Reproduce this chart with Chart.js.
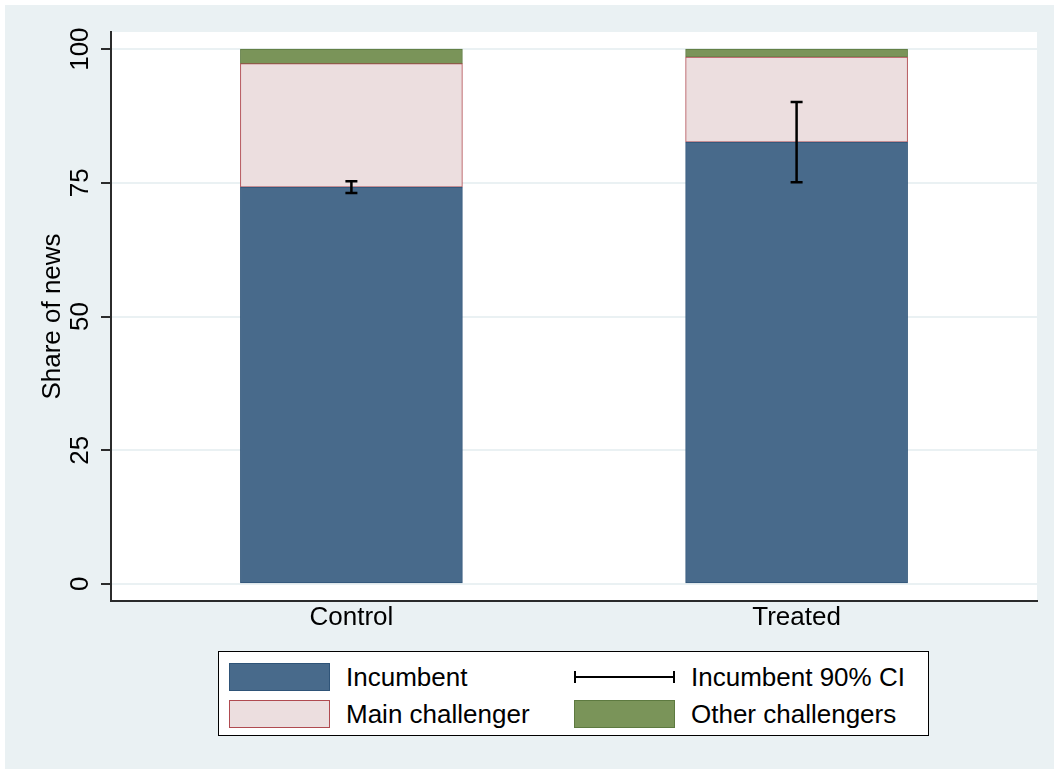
<!DOCTYPE html>
<html>
<head>
<meta charset="utf-8">
<script src="https://cdn.jsdelivr.net/npm/chart.js@4"></script>
<style>
  html, body { margin: 0; padding: 0; background: #ffffff; }
  #wrap { position: relative; width: 1056px; height: 771px; }
  #c { position: absolute; left: 0; top: 0; }
  #legend {
    position: absolute; left: 218px; top: 651px; width: 711px; height: 85px;
    border: 1.5px solid #000; background: #fff; box-sizing: border-box;
    font-family: "Liberation Sans", Arial, sans-serif; font-size: 26px; color: #000;
  }
  .sw { position: absolute; width: 101px; height: 28px; box-sizing: border-box; border: 1px solid; }
  .lbl { position: absolute; line-height: 30px; white-space: nowrap; }
  .ci { position: absolute; width: 101px; height: 2px; background: #000; }
  .ci::before, .ci::after { content: ""; position: absolute; top: -5px; width: 2px; height: 12px; background: #000; }
  .ci::before { left: 0; } .ci::after { right: 0; }
</style>
</head>
<body>
<div id="wrap">
  <canvas id="c" width="1056" height="771"></canvas>
  <div id="legend"></div>
</div>
<script>
// Group labels and stacked shares (percent of news coverage)
const categories = ['Control', 'Treated'];
const incumbent = [74.2, 82.6];
const mainChallenger = [23.1, 15.9];
const otherChallengers = [2.7, 1.5];
// 90% confidence interval for the incumbent share
const ciLow = [73.1, 75.1];
const ciHigh = [75.3, 90.1];
const yTicks = [0, 25, 50, 75, 100];

const seriesNames = ['Incumbent', 'Main challenger', 'Other challengers'];
const ciName = 'Incumbent 90% CI';
const fills = ['#486a8b', '#ecdedf', '#7a9459'];
const edges = ['#2f5478', '#b04a50', '#5d7a40'];

const FONT = '"Liberation Sans", Arial, sans-serif';
const BG = '#eaf1f3';
const AXIS = '#2b2b2b';

const toPoints = arr => arr.map((v, i) => ({ x: i, y: v }));

const backgroundPlugin = {
  id: 'bg',
  beforeDraw(chart) {
    const { ctx, chartArea: a } = chart;
    ctx.save();
    ctx.fillStyle = '#ffffff';
    ctx.fillRect(0, 0, chart.width, chart.height);
    ctx.fillStyle = BG;
    ctx.fillRect(5, 5, chart.width - 7, chart.height - 7);
    ctx.fillStyle = '#ffffff';
    ctx.fillRect(a.left, a.top, a.right - a.left, a.bottom - a.top);
    ctx.restore();
  }
};

const errorBarPlugin = {
  id: 'ciBars',
  afterDatasetsDraw(chart) {
    const { ctx } = chart;
    const xs = chart.scales.x, ys = chart.scales.y;
    ctx.save();
    ctx.strokeStyle = '#000';
    ctx.lineWidth = 2.5;
    ciLow.forEach((lo, i) => {
      const x = xs.getPixelForValue(i);
      const y1 = ys.getPixelForValue(lo), y2 = ys.getPixelForValue(ciHigh[i]);
      ctx.beginPath();
      ctx.moveTo(x, y1); ctx.lineTo(x, y2);
      ctx.moveTo(x - 6, y1); ctx.lineTo(x + 6, y1);
      ctx.moveTo(x - 6, y2); ctx.lineTo(x + 6, y2);
      ctx.stroke();
    });
    ctx.restore();
  }
};

// Rotated y tick labels and axis title
const yLabelPlugin = {
  id: 'yLabels',
  afterDraw(chart) {
    const { ctx } = chart;
    const ys = chart.scales.y;
    ctx.save();
    ctx.fillStyle = '#000';
    ctx.font = '26px ' + FONT;
    ctx.textAlign = 'center';
    ctx.textBaseline = 'alphabetic';
    ys.ticks.forEach(t => {
      const y = ys.getPixelForValue(t.value);
      ctx.save();
      ctx.translate(88, y);
      ctx.rotate(-Math.PI / 2);
      ctx.fillText(String(t.value), 0, 0);
      ctx.restore();
    });
    const mid = (ys.top + ys.bottom) / 2;
    ctx.save();
    ctx.translate(60, mid);
    ctx.rotate(-Math.PI / 2);
    ctx.fillText('Share of news', 0, 0);
    ctx.restore();
    ctx.restore();
  }
};

const datasets = [incumbent, mainChallenger, otherChallengers].map((vals, k) => ({
  label: seriesNames[k],
  data: toPoints(vals),
  backgroundColor: fills[k],
  borderColor: edges[k],
  borderWidth: 1,
  borderSkipped: false,
  barThickness: 222
}));

new Chart(document.getElementById('c'), {
  type: 'bar',
  data: { datasets },
  options: {
    responsive: false,
    animation: false,
    events: [],
    layout: { padding: { left: 0, top: 32, right: 19, bottom: 0 } },
    plugins: { legend: { display: false }, tooltip: { enabled: false } },
    scales: {
      x: {
        type: 'linear',
        stacked: true,
        offset: false,
        min: -0.54,
        max: 1.54,
        afterBuildTicks: s => { s.ticks = categories.map((_, i) => ({ value: i })); },
        afterFit: s => { s.height = 170; },
        grid: { display: false, drawTicks: false, offset: false },
        border: { display: true, color: AXIS, width: 2 },
        ticks: {
          padding: 1,
          color: '#000',
          font: { family: FONT, size: 26 },
          callback: v => categories[v] ?? ''
        }
      },
      y: {
        stacked: true,
        min: -3.2,
        max: 103.2,
        afterBuildTicks: s => { s.ticks = yTicks.map(v => ({ value: v })); },
        afterFit: s => { s.width = 111; },
        grid: { color: BG, lineWidth: 2, tickColor: AXIS, tickLength: 10, tickWidth: 2 },
        border: { display: true, color: AXIS, width: 2 },
        ticks: { display: false }
      }
    }
  },
  plugins: [backgroundPlugin, errorBarPlugin, yLabelPlugin]
});

// Two-column legend box below the plot
const legend = document.getElementById('legend');
const entries = [
  { kind: 'box', k: 0, col: 0, row: 0 },
  { kind: 'ci', col: 1, row: 0 },
  { kind: 'box', k: 1, col: 0, row: 1 },
  { kind: 'box', k: 2, col: 1, row: 1 }
];
const colX = [10, 355], rowY = [25, 62];
entries.forEach(e => {
  const cx = colX[e.col], cy = rowY[e.row];
  const mark = document.createElement('div');
  let text;
  if (e.kind === 'box') {
    mark.className = 'sw';
    mark.style.left = cx + 'px';
    mark.style.top = (cy - 14) + 'px';
    mark.style.background = fills[e.k];
    mark.style.borderColor = edges[e.k];
    text = seriesNames[e.k];
  } else {
    mark.className = 'ci';
    mark.style.left = cx + 'px';
    mark.style.top = (cy - 1) + 'px';
    text = ciName;
  }
  legend.appendChild(mark);
  const lbl = document.createElement('div');
  lbl.className = 'lbl';
  lbl.style.left = (cx + 117) + 'px';
  lbl.style.top = (cy - 15) + 'px';
  lbl.textContent = text;
  legend.appendChild(lbl);
});
</script>
</body>
</html>
